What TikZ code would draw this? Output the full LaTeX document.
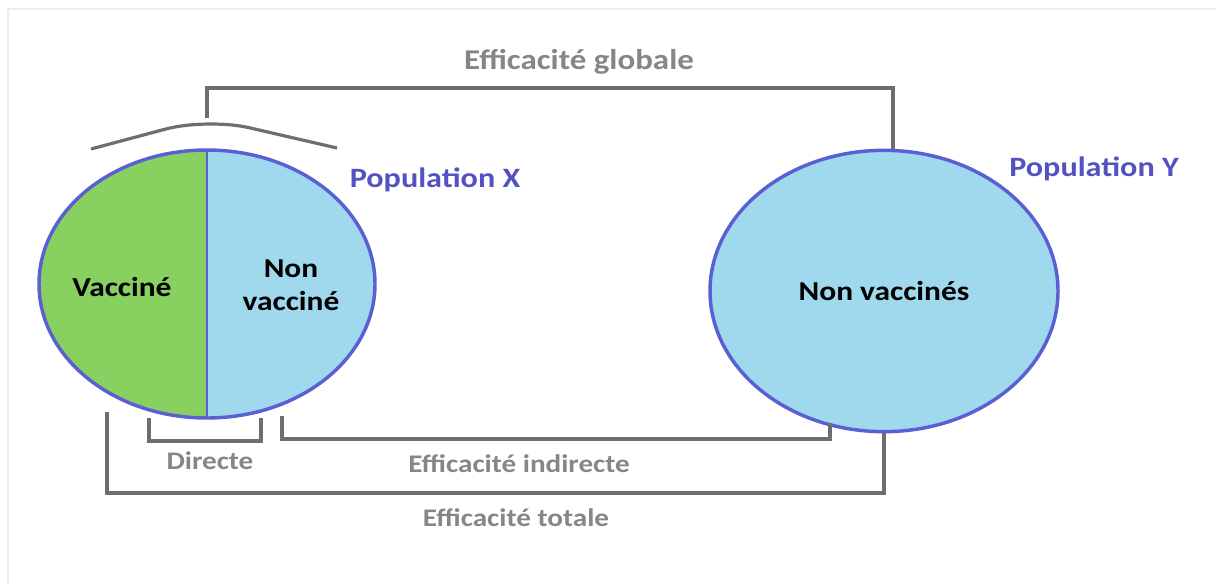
\documentclass[tikz,border=0pt]{standalone}
\usepackage{fontspec}
\setmainfont{Carlito}
\newfontfamily\lblfont[FakeStretch=1.15]{Carlito}
\usepackage{tikz}
\usetikzlibrary{shapes.geometric,calc}
\definecolor{popblue}{HTML}{5A60D4}
\definecolor{textblue}{HTML}{5252C2}
\definecolor{vgreen}{HTML}{88D160}
\definecolor{skyblue}{HTML}{A0D9EE}
\definecolor{bracketgray}{HTML}{6E6E6E}
\definecolor{labelgray}{HTML}{868686}
\definecolor{framegray}{HTML}{E9EDF0}

\begin{document}
\begin{tikzpicture}[x=0.75pt,y=-0.75pt,
 pop/.style={ellipse,draw=popblue,line width=2.6pt,inner sep=0pt},
 bracket/.style={draw=bracketgray,line width=2.4pt},
 effect/.style={text=labelgray,font=\lblfont\bfseries\fontsize{19}{22}\selectfont},
 groupname/.style={text=textblue,font=\lblfont\bfseries\fontsize{21}{24}\selectfont},
 inside/.style={text=black,font=\lblfont\bfseries\fontsize{20.5}{25}\selectfont,align=center}]
 \useasboundingbox (0,0) rectangle (1216,583);
 \draw[framegray,line width=2pt] (8,583) -- (8,9) -- (1216,9);
 \node[pop,minimum width=252pt,minimum height=201pt,
   path picture={
     \fill[skyblue] (path picture bounding box.south west) rectangle (path picture bounding box.north east);
     \fill[vgreen] (path picture bounding box.south west) rectangle (path picture bounding box.north);
     \draw[popblue,line width=1.5pt] (path picture bounding box.south) -- (path picture bounding box.north);}] (popX) at (207,284) {};
 \node[pop,fill=skyblue,minimum width=261pt,minimum height=211pt,inside] (popY) at (884,291) {Non vaccinés};
 \node[inside] (vacc) at (122,287) {Vacciné};
 \node[inside] (nonvacc) at (291,285) {Non\\vacciné};
 \node[groupname] (nameX) at (435,180) {Population X};
 \node[groupname] (nameY) at (1094,169) {Population Y};
 \coordinate (capL) at (91,149);
 \coordinate (crest) at (207,118);
 \coordinate (capR) at (337,148);
 \draw[bracket,rounded corners=32pt] (capL) -- (crest) -- (capR);
 \draw[bracket] (crest) -- ++(0,-30) -| ($(popY.north)+(9,0)$);
 \node[effect,font=\lblfont\bfseries\fontsize{21.5}{24}\selectfont] (global) at (579,62) {Efficacité globale};
 \coordinate (dirL) at (149,418);
 \coordinate (dirR) at (261,418);
 \coordinate (indL) at (282,416);
 \coordinate (indR) at (830,423);
 \coordinate (totL) at (107,412);
 \foreach \a/\b/\d in {dirL/dirR/23,indL/indR/23,totL/popY.south/81}
   \draw[bracket] (\a) -- ++(0,\d) -| (\b);
 \node[effect] (direct) at (210,461) {Directe};
 \node[effect] (indirect) at (519,464) {Efficacité indirecte};
 \node[effect] (total) at (516,518) {Efficacité totale};
\end{tikzpicture}
\end{document}
